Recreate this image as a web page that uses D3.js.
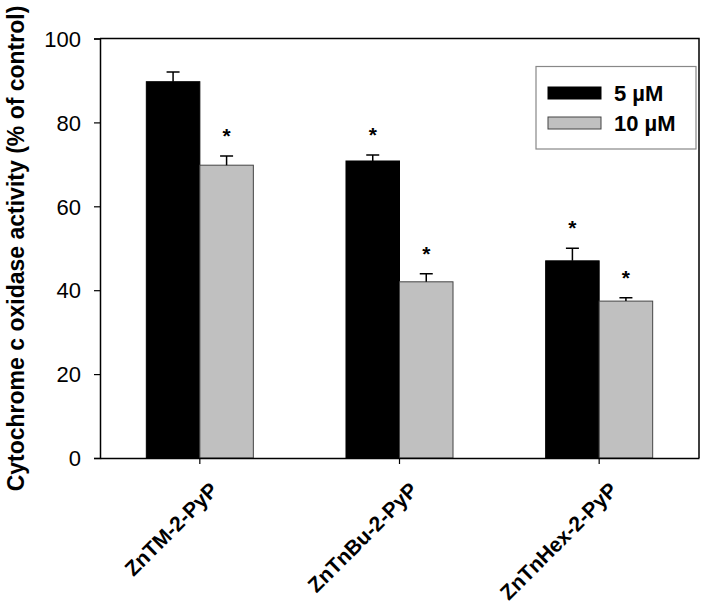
<!DOCTYPE html>
<html><head><meta charset="utf-8">
<script src="https://cdn.jsdelivr.net/npm/d3@7"></script>
<style>body{margin:0;background:#fff}svg{display:block}text{font-family:"Liberation Sans",Arial,sans-serif}</style>
</head><body>
<script>
const categories = ["ZnTM-2-PyP", "ZnTnBu-2-PyP", "ZnTnHex-2-PyP"];
const seriesNames = ["5 \u00b5M", "10 \u00b5M"];
const values5 = [89.7, 70.8, 47.0];
const values10 = [69.8, 42.0, 37.4];
const errors5 = [2.3, 1.4, 3.0];
const errors10 = [2.2, 1.9, 0.8];
const signif5 = [false, true, true];
const signif10 = [true, true, true];
const yTicks = [0, 20, 40, 60, 80, 100];
const yTitle = "Cytochrome c oxidase activity (% of control)";
const colors = ["#000000", "#c0c0c0"];
const strokes = ["#000000", "#444444"];

const W = 705, H = 610;
const m = {left: 100, right: 6, top: 38.5, bottom: 152};
const svg = d3.select("body").append("svg").attr("width", W).attr("height", H);
const x = d3.scaleBand().domain(categories).range([m.left, W - m.right]).padding(0);
const y = d3.scaleLinear().domain([0, 100]).range([H - m.bottom, m.top]);
const bw = x.bandwidth() * 0.268;

// frame top/right
svg.append("path").attr("d", `M${m.left},${m.top}H${W - m.right}V${H - m.bottom}`)
  .attr("fill", "none").attr("stroke", "#000").attr("stroke-width", 1.5);

const series = [values5, values10];
const errs = [errors5, errors10];
const sig = [signif5, signif10];
series.forEach((vals, s) => {
  const g = svg.append("g");
  const data = categories.map((c, i) => ({c, v: vals[i], e: errs[s][i], sg: sig[s][i]}));
  const bx = d => x(d.c) + x.bandwidth() / 2 + (s === 0 ? -bw : 0);
  g.selectAll("rect").data(data).join("rect")
    .attr("x", bx).attr("width", bw)
    .attr("y", d => y(d.v)).attr("height", d => y(0) - y(d.v))
    .attr("fill", colors[s]).attr("stroke", strokes[s]).attr("stroke-width", 1);
  g.selectAll("path.err").data(data).join("path").attr("class", "err")
    .attr("d", d => {
      const cx = bx(d) + bw / 2;
      return `M${cx},${y(d.v)}V${y(d.v + d.e)}M${cx - 6.5},${y(d.v + d.e)}H${cx + 6.5}`;
    })
    .attr("stroke", "#000").attr("stroke-width", 1.5).attr("fill", "none");
  g.selectAll("text.star").data(data.filter(d => d.sg)).join("text").attr("class", "star")
    .attr("x", d => bx(d) + bw / 2).attr("y", d => y(d.v + d.e) - 13)
    .attr("text-anchor", "middle").attr("font-size", 21).attr("font-weight", "bold")
    .text("*");
});

// y axis
const yAxis = svg.append("g").attr("transform", `translate(${m.left},0)`)
  .call(d3.axisLeft(y).tickValues(yTicks).tickSize(6).tickPadding(13));
yAxis.select(".domain").attr("stroke-width", 1.5);
yAxis.selectAll(".tick line").attr("stroke-width", 1.2);
yAxis.selectAll("text").attr("font-size", 22).attr("font-family", "Liberation Sans, Arial, sans-serif").attr("fill", "#000").attr("dy", "0.35em");

// x axis
const xAxis = svg.append("g").attr("transform", `translate(0,${H - m.bottom})`)
  .call(d3.axisBottom(x).tickSize(6).tickSizeOuter(0).tickFormat(""));
xAxis.select(".domain").attr("stroke-width", 1.5);
xAxis.selectAll(".tick line").attr("stroke-width", 1.2);
svg.append("g").selectAll("text").data(categories).join("text")
  .attr("transform", d => `translate(${x(d) + x.bandwidth() / 2 + 9},${H - m.bottom + 23}) rotate(-45)`)
  .attr("text-anchor", "end").attr("dy", "0.7em")
  .attr("font-size", 21).attr("font-weight", "bold").text(d => d);

// y title
svg.append("text").attr("transform", `translate(24,${(5 + 492) / 2}) rotate(-90)`)
  .attr("text-anchor", "middle").attr("font-size", 23).attr("font-weight", "bold").text(yTitle);

// legend
const lg = svg.append("g");
lg.append("rect").attr("x", 536).attr("y", 66.5).attr("width", 160).attr("height", 82.5)
  .attr("fill", "#fff").attr("stroke", "#888").attr("stroke-width", 1.2);
seriesNames.forEach((n, i) => {
  lg.append("rect").attr("x", 548).attr("y", 87 + i * 30).attr("width", 53).attr("height", 12)
    .attr("fill", colors[i]).attr("stroke", strokes[i]).attr("stroke-width", 1);
  lg.append("text").attr("x", 614).attr("y", 93 + i * 30).attr("dy", "0.35em")
    .attr("font-size", 22).attr("font-weight", "bold").text(n);
});
</script>
</body></html>
